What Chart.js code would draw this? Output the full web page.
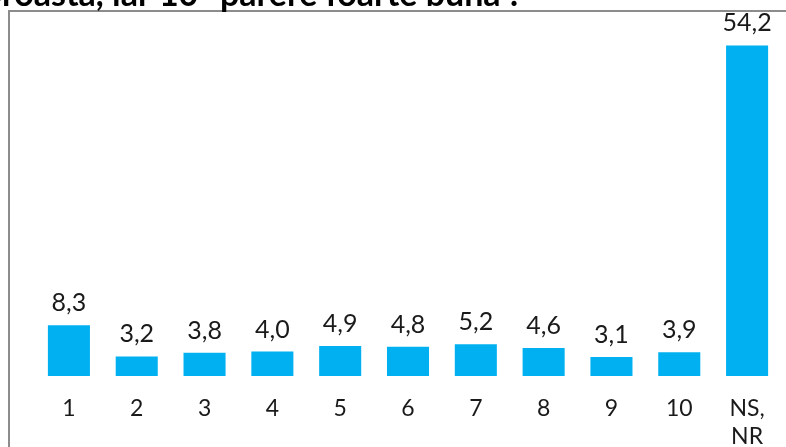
<!DOCTYPE html>
<html>
<head>
<meta charset="utf-8">
<script src="https://cdn.jsdelivr.net/npm/chart.js@4/dist/chart.umd.min.js"></script>
<style>
  html, body { margin: 0; padding: 0; background: #fff; }
  #wrap { width: 786px; height: 447px; }
</style>
</head>
<body>
<div id="wrap"><canvas id="chart"></canvas></div>
<script>
// data
const categories = ["1", "2", "3", "4", "5", "6", "7", "8", "9", "10", ["NS,", "NR"]];
const values = [8.3, 3.2, 3.8, 4.0, 4.9, 4.8, 5.2, 4.6, 3.1, 3.9, 54.2];
const titleText = "proastă, iar 10 \"părere foarte bună\".";

const barColor = "#00B0F0";
const textFont = "Lato, 'DejaVu Sans', sans-serif";

// frame and cut-off title at the top
const framePlugin = {
    id: "frame",
    beforeDraw(chart) {
        const ctx = chart.ctx;
        ctx.save();
        ctx.strokeStyle = "#8c8c8c";
        ctx.lineWidth = 2;
        ctx.strokeRect(9, 11, 800, 460);
        ctx.fillStyle = "#000";
        ctx.font = "bold 34px " + textFont;
        ctx.textAlign = "right";
        ctx.textBaseline = "alphabetic";
        ctx.fillText(titleText, 518, 6);
        ctx.restore();
    }
};

// value labels above the bars, with decimal comma
const valueLabels = {
    id: "valueLabels",
    afterDatasetsDraw(chart) {
        const ctx = chart.ctx;
        const meta = chart.getDatasetMeta(0);
        ctx.save();
        ctx.fillStyle = "#1a1a1a";
        ctx.font = "25px " + textFont;
        ctx.textAlign = "center";
        ctx.textBaseline = "alphabetic";
        meta.data.forEach((bar, i) => {
            const label = values[i].toFixed(1).replace(".", ",");
            ctx.fillText(label, bar.x, bar.y - 14);
        });
        ctx.restore();
    }
};

new Chart(document.getElementById("chart"), {
    type: "bar",
    data: {
        labels: categories,
        datasets: [{
            data: values,
            backgroundColor: barColor,
            borderWidth: 0,
            categoryPercentage: 1,
            barPercentage: 0.62
        }]
    },
    options: {
        responsive: true,
        maintainAspectRatio: false,
        animation: false,
        layout: { padding: { left: 35, right: 5, top: 10, bottom: 0 } },
        plugins: {
            legend: { display: false },
            tooltip: { enabled: false }
        },
        scales: {
            x: {
                grid: { display: false, drawTicks: false },
                border: { display: false },
                afterFit(scale) { scale.height = 71; },
                ticks: {
                    color: "#1a1a1a",
                    font: { family: textFont, size: 23, lineHeight: 1.2 },
                    padding: 19,
                    maxRotation: 0,
                    autoSkip: false
                }
            },
            y: {
                display: false,
                min: 0,
                max: 60
            }
        }
    },
    plugins: [framePlugin, valueLabels]
});
</script>
</body>
</html>
